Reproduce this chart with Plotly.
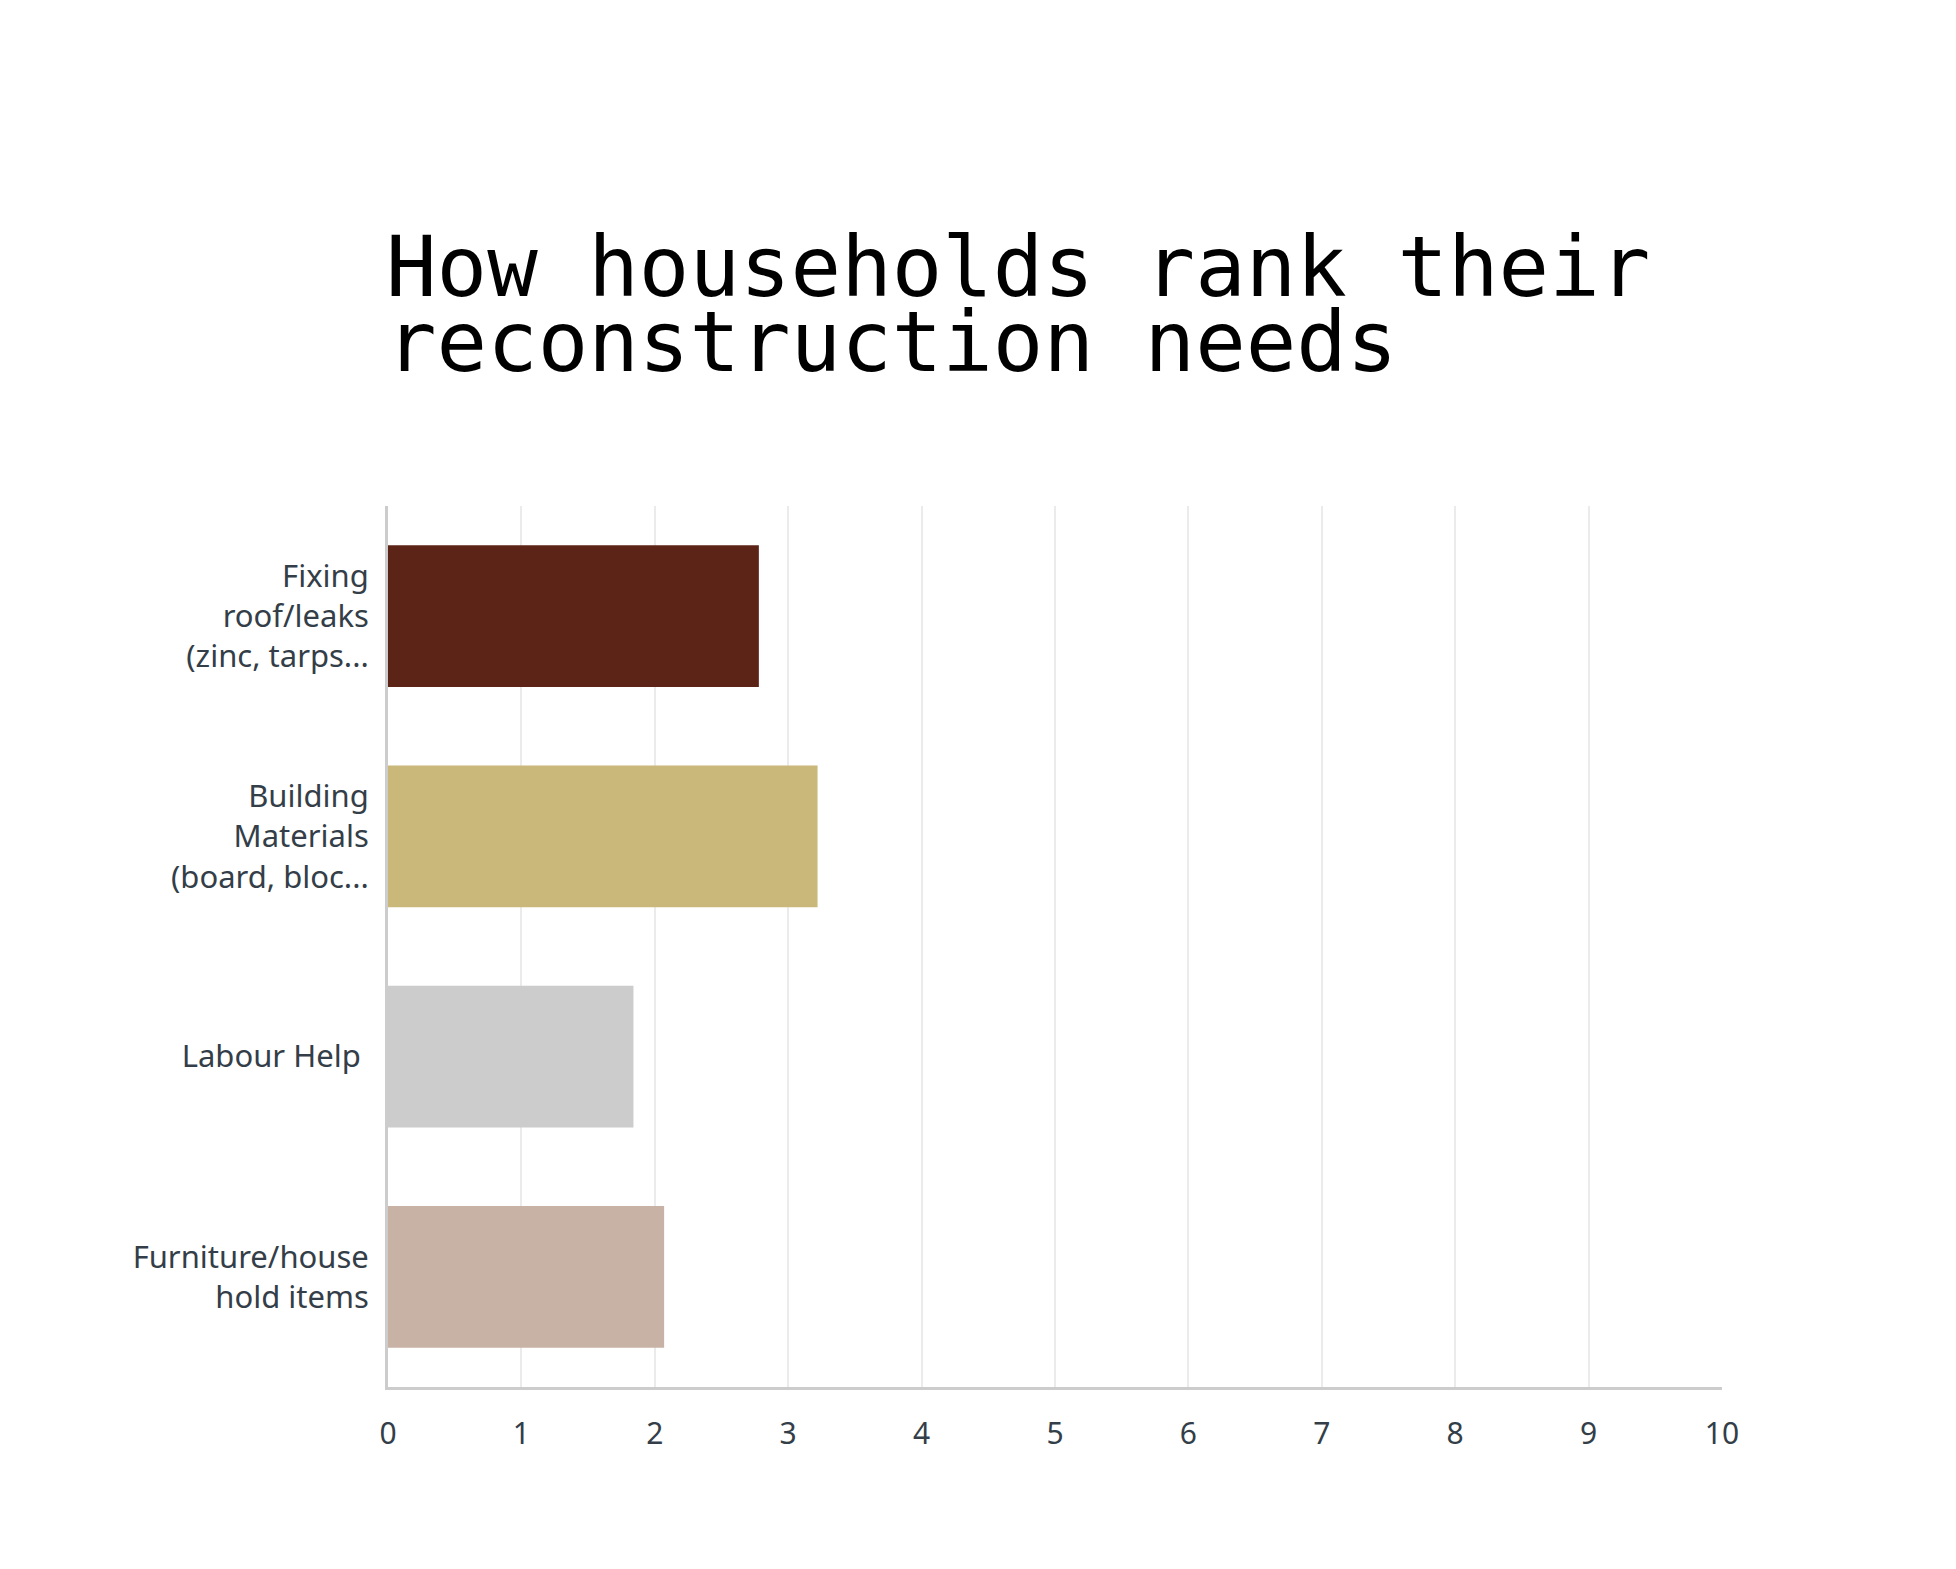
import plotly.graph_objects as go

categories = [
    "Fixing<br>roof/leaks<br>(zinc, tarps...",
    "Building<br>Materials<br>(board, bloc...",
    "Labour Help ",
    "Furniture/house<br>hold items",
]
values = [2.78, 3.22, 1.84, 2.07]
bar_colors = ["#5c2317", "#c9b87a", "#cccccc", "#c8b2a6"]
x_ticks = list(range(0, 11))
title_lines = ["How households rank their", "reconstruction needs"]

fig = go.Figure(
    go.Bar(
        x=values,
        y=categories,
        orientation="h",
        marker=dict(color=bar_colors, line=dict(width=0)),
        hoverinfo="x+y",
    )
)

# page body has an 8px default margin; compensate
W, H = 1948, 1561
ml, mr, mt, mb = 380, 234, 498, 182

fig.update_layout(
    width=W,
    height=H,
    margin=dict(l=ml, r=mr, t=mt, b=mb, pad=0),
    paper_bgcolor="white",
    plot_bgcolor="white",
    bargap=0.357,
    showlegend=False,
    font=dict(family="Noto Sans", color="#333e48"),
)

fig.update_xaxes(
    range=[0, 10],
    tickvals=x_ticks,
    ticktext=[str(t) for t in x_ticks],
    showgrid=True,
    gridcolor="#ebebeb",
    gridwidth=2,
    showline=True,
    linecolor="#cccccc",
    linewidth=3,
    zeroline=False,
    ticks="",
    ticklabelstandoff=18,
    tickfont=dict(family="Noto Sans", size=30, color="#333e48"),
)

fig.update_yaxes(
    autorange="reversed",
    showgrid=False,
    showline=True,
    linecolor="#cccccc",
    linewidth=3,
    zeroline=False,
    ticks="",
    ticklabelstandoff=10,
    tickfont=dict(family="Noto Sans", size=31, color="#333e48"),
)

pw = W - ml - mr
ph = H - mt - mb
line_base = [292, 367]
for txt, base in zip(title_lines, line_base):
    fig.add_annotation(
        text=txt,
        xref="paper",
        yref="paper",
        x=-4 / pw,
        y=(H - mb - base) / ph,
        xanchor="left",
        yanchor="bottom",
        yshift=-18,
        showarrow=False,
        font=dict(family="DejaVu Sans Mono", size=84, color="#000000"),
    )

fig.write_html("out.html")
